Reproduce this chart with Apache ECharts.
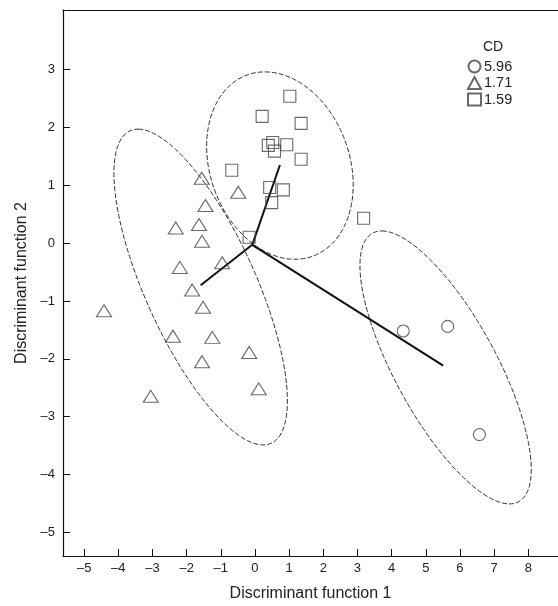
<!DOCTYPE html>
<html>
<head>
<meta charset="utf-8">
<script src="https://cdn.jsdelivr.net/npm/echarts@6/dist/echarts.min.js"></script>
<style>html,body{margin:0;padding:0;background:#fff;}#c{width:558px;height:606px;}</style>
</head>
<body>
<div id="c"></div>
<script>
// ---- data ----
var xTicks = [-5, -4, -3, -2, -1, 0, 1, 2, 3, 4, 5, 6, 7, 8];
var yTicks = [-5, -4, -3, -2, -1, 0, 1, 2, 3];
var legendTitle = 'CD';
var groupNames = ['5.96', '1.71', '1.59'];

var circles = [[4.34, -1.52], [5.64, -1.44], [6.57, -3.31]];
var triangles = [
  [-1.56, 1.12], [-0.49, 0.88], [-1.45, 0.65], [-2.32, 0.26], [-1.64, 0.32],
  [-1.55, 0.03], [-2.20, -0.42], [-0.96, -0.34], [-1.84, -0.81], [-4.42, -1.17],
  [-1.52, -1.11], [-2.40, -1.61], [-1.25, -1.63], [-0.17, -1.89], [-1.55, -2.05],
  [-3.05, -2.65], [0.11, -2.52]
];
var squares = [
  [1.02, 2.54], [0.21, 2.19], [1.35, 2.07], [0.39, 1.69], [0.52, 1.74],
  [0.57, 1.59], [0.93, 1.70], [1.35, 1.45], [-0.68, 1.26], [0.43, 0.96],
  [0.83, 0.92], [0.49, 0.70], [-0.17, 0.10], [3.18, 0.43]
];

// vectors from the common origin to the group centroids
var vectorOrigin = [-0.08, -0.03];
var vectorEnds = [[0.73, 1.35], [-1.59, -0.73], [5.51, -2.12]];

// ellipses: centre x, centre y, conjugate half-axis 1 (dx, dy), conjugate half-axis 2 (dx, dy)
var ellipses = [
  [-1.59, -0.76, -1.83, 2.73, 1.76, 0],
  [0.73, 1.34, -0.44, 1.62, 2.10, 0],
  [5.58, -2.15, -1.87, 2.36, 1.67, 0]
];

var xRange = [-5.62, 8.87];
var yRange = [-5.41, 4.03];

// ---- chart ----
var FONT = '"Liberation Sans", Arial, Helvetica, sans-serif';
var dash = function (v) { return String(v).replace('-', '\u2013'); };
var markerStyle = { color: 'transparent', borderColor: '#444', borderWidth: 1.1 };

var vectorSeries = vectorEnds.map(function (end) {
  return {
    type: 'line', data: [vectorOrigin, end], symbol: 'none', silent: true,
    lineStyle: { color: '#111', width: 2 }, z: 3
  };
});

var chart = echarts.init(document.getElementById('c'), null, { renderer: 'canvas' });
chart.setOption({
  animation: false,
  backgroundColor: '#fff',
  textStyle: { fontFamily: FONT },
  title: {
    text: legendTitle, left: 483, top: 40, padding: 0,
    textStyle: { fontSize: 14, fontWeight: 'normal', color: '#222', fontFamily: FONT }
  },
  legend: {
    data: groupNames, orient: 'vertical', left: 467, top: 59, padding: 0,
    itemWidth: 13, itemHeight: 12, itemGap: 1.5,
    textStyle: { fontSize: 14.5, color: '#222', fontFamily: FONT, padding: [0, 0, 0, -2] }
  },
  grid: { left: 63, right: 0, top: 10, bottom: 50, containLabel: false, outerBoundsMode: 'none' },
  xAxis: [{
    type: 'value', min: xRange[0], max: xRange[1], position: 'bottom',
    name: 'Discriminant function 1', nameLocation: 'middle', nameGap: 30,
    nameTextStyle: { fontSize: 16, color: '#222', fontFamily: FONT },
    axisLine: { show: true, onZero: false, lineStyle: { color: '#111', width: 1.2 } },
    axisTick: { show: true, inside: true, length: 7, customValues: xTicks, lineStyle: { color: '#111', width: 1 } },
    axisLabel: { customValues: xTicks, formatter: dash, fontSize: 13, color: '#222', margin: 6, fontFamily: FONT },
    splitLine: { show: false }
  }, {
    type: 'value', min: xRange[0], max: xRange[1], position: 'top',
    axisLine: { show: true, onZero: false, lineStyle: { color: '#111', width: 1.2 } },
    axisTick: { show: false }, axisLabel: { show: false }, splitLine: { show: false }
  }],
  yAxis: {
    type: 'value', min: yRange[0], max: yRange[1],
    name: 'Discriminant function 2', nameLocation: 'middle', nameGap: 32,
    nameTextStyle: { fontSize: 16, color: '#222', fontFamily: FONT },
    axisLine: { show: true, onZero: false, lineStyle: { color: '#111', width: 1.2 } },
    axisTick: { show: true, inside: true, length: 7, customValues: yTicks, lineStyle: { color: '#111', width: 1 } },
    axisLabel: { customValues: yTicks, formatter: dash, fontSize: 13, color: '#222', margin: 8, fontFamily: FONT },
    splitLine: { show: false }
  },
  series: [
    {
      type: 'custom', silent: true, clip: false, z: 1,
      data: ellipses,
      encode: { x: 0, y: 1 },
      renderItem: function (params, api) {
        var cx = api.value(0), cy = api.value(1);
        var px = api.value(2), py = api.value(3), qx = api.value(4), qy = api.value(5);
        var pts = [];
        var n = 160;
        for (var i = 0; i <= n; i++) {
          var t = 2 * Math.PI * i / n;
          pts.push(api.coord([cx + Math.cos(t) * px + Math.sin(t) * qx,
                              cy + Math.cos(t) * py + Math.sin(t) * qy]));
        }
        return {
          type: 'polyline', shape: { points: pts },
          style: { stroke: '#333', lineWidth: 1, fill: null, lineDash: [5, 2] }
        };
      }
    }
  ].concat(vectorSeries).concat([
    { name: groupNames[0], type: 'scatter', data: circles, symbol: 'circle', symbolSize: 12, itemStyle: markerStyle, z: 4 },
    { name: groupNames[1], type: 'scatter', data: triangles, symbol: 'triangle', symbolSize: [15, 12], itemStyle: markerStyle, z: 4 },
    { name: groupNames[2], type: 'scatter', data: squares, symbol: 'rect', symbolSize: 12, itemStyle: markerStyle, z: 4 }
  ])
});
</script>
</body>
</html>
